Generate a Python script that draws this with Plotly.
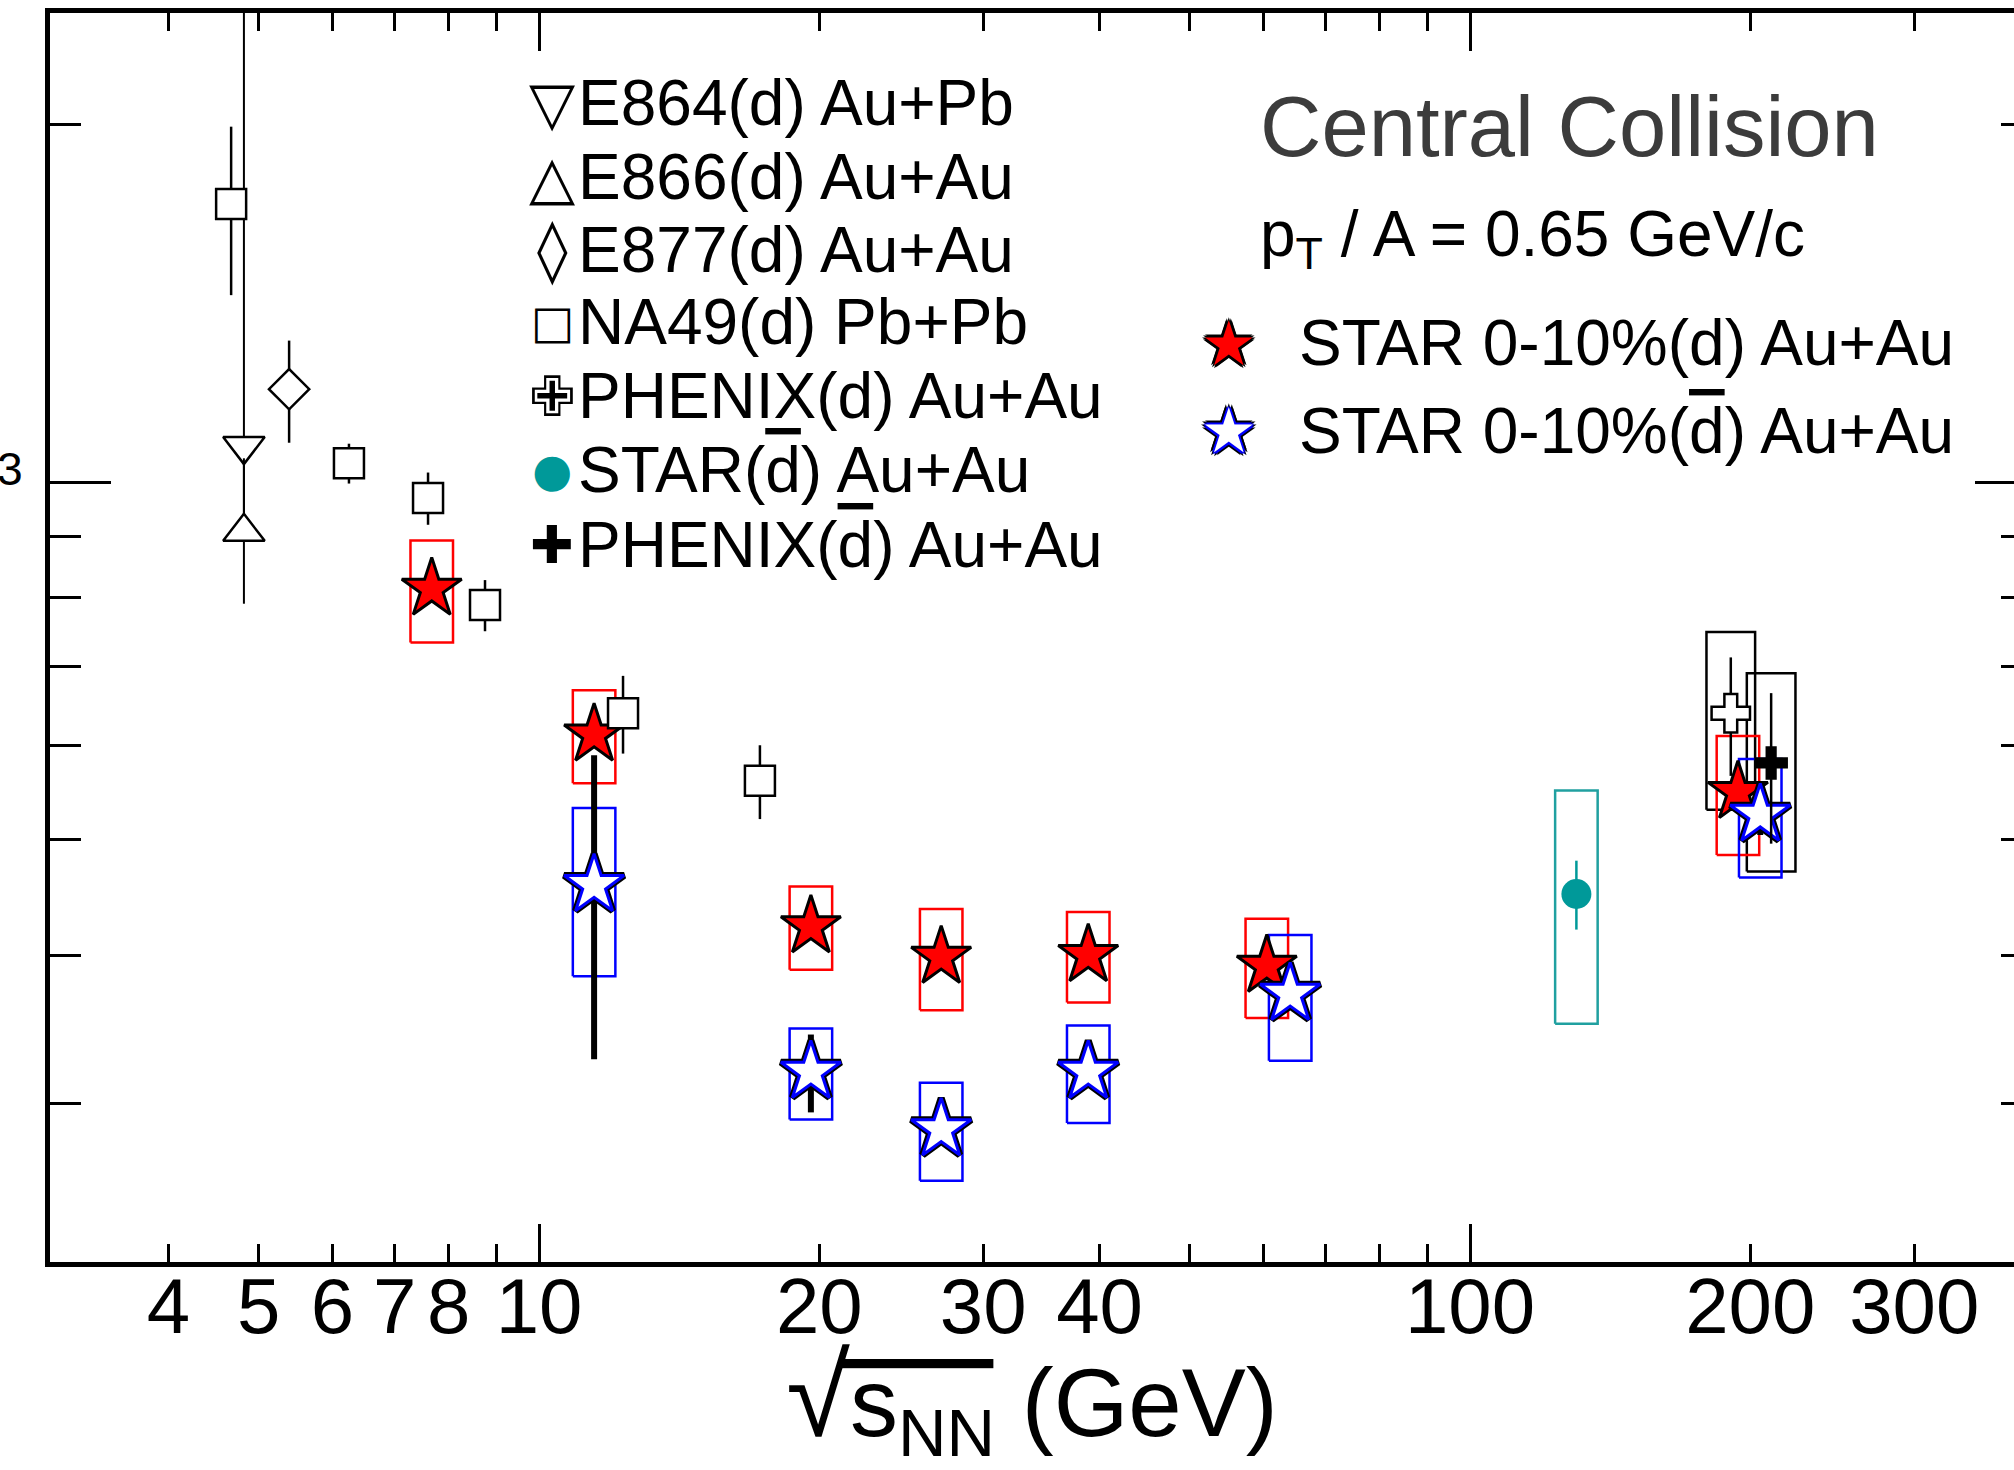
import plotly.graph_objects as go

# ---------------- data (sqrt(s_NN) in GeV, B2 in units of 1e-3) ----------------
e864_x = [4.82]
e864_y = [1.072]
e864_err_plus = [2.0]
e864_err_minus = [0.164]

e866_x = [4.82]
e866_y = [0.908]
e866_err_plus = [0.139]
e866_err_minus = [0.118]

e877_x = [5.39]
e877_y = [1.197]
e877_err = [0.118]

na49_x = [4.67, 6.25, 7.6, 8.75, 12.31, 17.27]
na49_y = [1.713, 1.037, 0.9695, 0.788, 0.639, 0.5606]
na49_err = [0.277, 0.04, 0.049, 0.039, 0.048, 0.04]

phenix_d_x = [190.6]
phenix_d_y = [0.639]
phenix_d_stat = [0.073]
phenix_d_sys = [0.109]

phenix_dbar_x = [210.6]
phenix_dbar_y = [0.5804]
phenix_dbar_stat = [0.084]
phenix_dbar_sys = [0.11]

star_dbar130_x = [130.1]
star_dbar130_y = [0.4503]
star_dbar130_stat = [0.03]
star_dbar130_sys = [0.1]

star_d_x = [7.67, 11.46, 19.59, 27.04, 38.9, 60.5, 194.0]
star_d_y = [0.813, 0.613, 0.4228, 0.3985, 0.3999, 0.3917, 0.5485]
star_d_stat = [0.01, 0.01, 0.006, 0.005, 0.005, 0.005, 0.01]
star_d_sys = [0.08, 0.055, 0.034, 0.039, 0.035, 0.0375, 0.063]

star_dbar_x = [11.46, 19.59, 27.04, 38.9, 64.1, 205.0]
star_dbar_y = [0.458, 0.319, 0.2854, 0.319, 0.371, 0.5248]
star_dbar_stat = [0.131, 0.024, 0.006, 0.005, 0.008, 0.02]
star_dbar_sys = [0.074, 0.028, 0.027, 0.030, 0.045, 0.06]

x_label_vals = [4, 5, 6, 7, 8, 20, 30, 40, 200, 300]
x_label_text = ["4", "5", "6", "7", "8", "20", "30", "40", "200", "300"]
x_major_vals = [10, 100]
x_major_text = ["10", "100"]
x_minor_vals = [4, 5, 6, 7, 8, 9, 20, 30, 40, 50, 60, 70, 80, 90, 200, 300, 400]
y_major_vals = [1e-3]
y_major_text = ["10<sup>-3</sup>"]
y_minor_vals = [3e-4, 4e-4, 5e-4, 6e-4, 7e-4, 8e-4, 9e-4, 2e-3]

OVL = "<span style='text-decoration:overline'>d</span>"
legend1_labels = [
    "E864(d) Au+Pb",
    "E866(d) Au+Au",
    "E877(d) Au+Au",
    "NA49(d) Pb+Pb",
    "PHENIX(d) Au+Au",
    "STAR(" + OVL + ") Au+Au",
    "PHENIX(" + OVL + ") Au+Au",
]
legend1_glyphs = ["▽", "△", "◊", "□", "✙", "●", "✚"]
legend1_colors = ["black", "black", "black", "black", "black", "#009999", "black"]
legend1_glyph_sizes = [60, 60, 62, 46, 56, 46, 52]
legend2_labels = [
    "STAR 0-10%(d) Au+Au",
    "STAR 0-10%(" + OVL + ") Au+Au",
]

# ---------------- helpers ----------------
FONT = "Liberation Sans, Arial, Helvetica, sans-serif"
SYMFONT = "DejaVu Sans, Liberation Sans, sans-serif"
SCALE = 1e-3
X_RANGE = [0.47476, 2.58432]
Y_RANGE = [-3.65601, -2.60555]
ML, MT, PW, PH = 50, 13, 1964, 1249


def u(a):
    return [v * SCALE for v in a]


def boxes(xs, ys, errs, half):
    bx, by = [], []
    for x, y, e in zip(xs, ys, errs):
        lo, hi = (y - e) * SCALE, (y + e) * SCALE
        bx += [x / half, x * half, x * half, x / half, x / half, None]
        by += [lo, lo, hi, hi, lo, None]
    return bx, by


def box_trace(xs, ys, errs, color, half=1.054, width=2.5):
    bx, by = boxes(xs, ys, errs, half)
    return go.Scatter(x=bx, y=by, mode="lines", line=dict(color=color, width=width),
                      showlegend=False, hoverinfo="skip", xaxis="x", yaxis="y")


def err(arr, thick=2.5, color="black", minus=None):
    d = dict(type="data", array=u(arr), thickness=thick, width=0, color=color, visible=True)
    if minus is not None:
        d["symmetric"] = False
        d["arrayminus"] = u(minus)
    return d


fig = go.Figure()

# systematic boxes (base subplot)
fig.add_trace(box_trace(phenix_d_x, phenix_d_y, phenix_d_sys, "black", half=1.062))
fig.add_trace(box_trace(phenix_dbar_x, phenix_dbar_y, phenix_dbar_sys, "black", half=1.062))
fig.add_trace(box_trace(star_dbar130_x, star_dbar130_y, star_dbar130_sys, "#20a0a0"))
fig.add_trace(box_trace(star_d_x, star_d_y, star_d_sys, "#ff0000"))
fig.add_trace(box_trace(star_dbar_x, star_dbar_y, star_dbar_sys, "#0000ff"))

open_line = dict(color="black", width=2.5)
OX = dict(xaxis="x2", yaxis="y")   # other experiments (overlay sharing identical scales)
SX = dict(xaxis="x", yaxis="y2")   # STAR 0-10% (overlay sharing identical scales)

fig.add_trace(go.Scatter(x=e864_x, y=u(e864_y), mode="markers", name="E864(d) Au+Pb", **OX,
                         marker=dict(symbol="triangle-down", size=36, color="white", line=open_line),
                         error_y=err(e864_err_plus, thick=2, minus=e864_err_minus)))
fig.add_trace(go.Scatter(x=e866_x, y=u(e866_y), mode="markers", name="E866(d) Au+Au", **OX,
                         marker=dict(symbol="triangle-up", size=36, color="white", line=open_line),
                         error_y=err(e866_err_plus, thick=2, minus=e866_err_minus)))
fig.add_trace(go.Scatter(x=e877_x, y=u(e877_y), mode="markers", name="E877(d) Au+Au", **OX,
                         marker=dict(symbol="diamond", size=31, color="white", line=open_line),
                         error_y=err(e877_err)))
fig.add_trace(go.Scatter(x=na49_x, y=u(na49_y), mode="markers", name="NA49(d) Pb+Pb", **OX,
                         marker=dict(symbol="square", size=30, color="white", line=open_line),
                         error_y=err(na49_err)))
fig.add_trace(go.Scatter(x=phenix_d_x, y=u(phenix_d_y), mode="markers", name="PHENIX(d) Au+Au", **OX,
                         marker=dict(symbol="cross", size=32, color="white", line=open_line),
                         error_y=err(phenix_d_stat)))
fig.add_trace(go.Scatter(x=phenix_dbar_x, y=u(phenix_dbar_y), mode="markers", name="PHENIX(dbar) Au+Au", **OX,
                         marker=dict(symbol="cross", size=28, color="black", line=dict(width=0)),
                         error_y=err(phenix_dbar_stat)))
fig.add_trace(go.Scatter(x=star_dbar130_x, y=u(star_dbar130_y), mode="markers", name="STAR(dbar) Au+Au", **OX,
                         marker=dict(symbol="circle", size=30, color="#009999", line=dict(width=0)),
                         error_y=err(star_dbar130_stat, color="#009999")))
fig.add_trace(go.Scatter(x=star_d_x, y=u(star_d_y), mode="markers", name="STAR 0-10%(d) Au+Au", **SX,
                         marker=dict(symbol="star", size=45, color="#ff0000", line=dict(color="black", width=3)),
                         error_y=err(star_d_stat, thick=6)))
fig.add_trace(go.Scatter(x=star_dbar_x, y=u(star_dbar_y), mode="markers", name="STAR 0-10%(dbar) Au+Au", **SX,
                         marker=dict(symbol="star", size=45, color="white", line=dict(color="black", width=7)),
                         error_y=err(star_dbar_stat, thick=6)))
fig.add_trace(go.Scatter(x=star_dbar_x, y=u(star_dbar_y), mode="markers", showlegend=False, **SX,
                         marker=dict(symbol="star", size=45, color="white", line=dict(color="#0000ff", width=3)),
                         hoverinfo="skip"))


def px2paper(xp, yp):
    return (xp - ML) / PW, (MT + PH - yp) / PH


def ann(text, xp, yp, size, color="black", xanchor="left", family=FONT, shadow=None):
    x, y = px2paper(xp, yp)
    f = dict(size=size, color=color, family=family)
    if shadow:
        f["shadow"] = shadow
    return dict(text=text, x=x, y=y, xref="paper", yref="paper", xanchor=xanchor,
                yanchor="middle", showarrow=False, font=f)


annotations = []
row_y = [103, 177, 250, 322, 396, 470, 545]
for lab, g, c, gs, yp in zip(legend1_labels, legend1_glyphs, legend1_colors, legend1_glyph_sizes, row_y):
    annotations.append(ann(g, 552, yp, gs, color=c, xanchor="center", family=SYMFONT))
    annotations.append(ann(lab, 576, yp, 64))

annotations.append(ann("Central Collision", 1258, 126, 85, color="#3c3c3c"))
annotations.append(ann("p<sub>T</sub> / A = 0.65 GeV/c", 1258, 238, 64))

blk = ",".join(f"{dx}px {dy}px 0 #000" for dx, dy in
               [(-2, -2), (2, -2), (-2, 2), (2, 2), (0, -3), (0, 3), (-3, 0), (3, 0)])
blue_blk = ",".join([f"{dx}px {dy}px 0 #0000ff" for dx, dy in
                     [(-2, 0), (2, 0), (0, -2), (0, 2), (-1.5, -1.5), (1.5, -1.5), (-1.5, 1.5), (1.5, 1.5)]] +
                    [f"{dx}px {dy}px 0 #000" for dx, dy in
                     [(-4, 0), (4, 0), (0, -4), (0, 4), (-3, -3), (3, -3), (-3, 3), (3, 3)]])
annotations.append(ann("★", 1229, 343, 62, color="#ff0000", xanchor="center", family=SYMFONT, shadow=blk))
annotations.append(ann("★", 1229, 431, 62, color="white", xanchor="center", family=SYMFONT, shadow=blue_blk))
annotations.append(ann(legend2_labels[0], 1297, 343, 64))
annotations.append(ann(legend2_labels[1], 1297, 431, 64))

# radical bar of the axis title (overline over s_NN)
annotations.append(ann("<span style='text-decoration:overline'>" + "\u00a0" * 6 + "</span>",
                       838, 1419, 92))

axis_common = dict(type="log", showgrid=False, zeroline=False, automargin=False,
                   linecolor="black", tickcolor="black")

fig.update_layout(
    width=2014, height=1470,
    margin=dict(l=ML, r=0, t=MT, b=1470 - MT - PH, pad=0),
    paper_bgcolor="white", plot_bgcolor="white",
    showlegend=False,
    font=dict(family=FONT, color="black"),
    xaxis=dict(**axis_common, range=X_RANGE, showline=True, linewidth=5, mirror="ticks",
               ticks="inside", ticklen=38, tickwidth=2.5,
               tickmode="array", tickvals=x_major_vals, ticktext=x_major_text,
               tickfont=dict(size=78, family=FONT, color="black"), ticklabelstandoff=-28,
               minor=dict(tickmode="array", tickvals=x_minor_vals, ticks="inside", ticklen=18,
                          tickwidth=2.5, tickcolor="black", showgrid=False),
               title=dict(text="<span style='font-size:116px'>√</span>s<sub>NN</sub> (GeV)",
                          font=dict(size=96, family=FONT, color="black"), standoff=23)),
    xaxis2=dict(**axis_common, range=X_RANGE, overlaying="x", anchor="y", side="bottom",
                showline=True, linewidth=5, ticks="",
                tickmode="array", tickvals=x_label_vals, ticktext=x_label_text,
                tickfont=dict(size=78, family=FONT, color="black"), ticklabelstandoff=-28),
    yaxis=dict(**axis_common, range=Y_RANGE, showline=True, linewidth=5, mirror=False,
               ticks="inside", ticklen=61, tickwidth=2.5,
               tickmode="array", tickvals=y_major_vals, ticktext=y_major_text,
               tickfont=dict(size=66, family=FONT, color="black"),
               ticklabelstandoff=9, ticklabelshift=8,
               minor=dict(tickmode="array", tickvals=y_minor_vals, ticks="inside", ticklen=31,
                          tickwidth=2.5, tickcolor="black", showgrid=False)),
    yaxis2=dict(**axis_common, range=Y_RANGE, overlaying="y", anchor="x", side="right",
                showline=False, ticks="inside", ticklen=39, tickwidth=2.5,
                tickmode="array", tickvals=y_major_vals, showticklabels=False,
                minor=dict(tickmode="array", tickvals=y_minor_vals, ticks="inside", ticklen=13,
                           tickwidth=2.5, tickcolor="black", showgrid=False)),
    annotations=annotations,
)

fig.write_html("out.html")
